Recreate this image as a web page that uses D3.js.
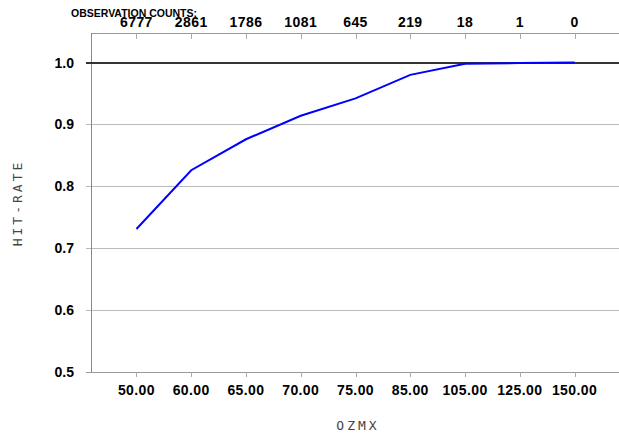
<!DOCTYPE html>
<html>
<head>
<meta charset="utf-8">
<script src="https://cdn.jsdelivr.net/npm/d3@7"></script>
<style>
  body { margin: 0; background: #fff; }
  .bold { font-family: "Liberation Sans", Arial, sans-serif; font-weight: bold; fill: #000; }
  .mono { font-family: "DejaVu Sans Mono", monospace; fill: #444; }
</style>
</head>
<body>
<script>
// chart data
var categories = ['50.00', '60.00', '65.00', '70.00', '75.00', '85.00', '105.00', '125.00', '150.00'];
var hitRate = [0.731, 0.826, 0.876, 0.914, 0.942, 0.980, 0.998, 0.999, 1.0];
var counts = [6777, 2861, 1786, 1081, 645, 219, 18, 1, 0];
var yTicks = [0.5, 0.6, 0.7, 0.8, 0.9, 1.0];

var width = 619;
var height = 434;
// plot frame (window.top is reserved, so use other names)
var plotL = 91, plotR = 620, plotT = 33, plotB = 372;

var svg = d3.select('body').append('svg')
  .attr('width', width)
  .attr('height', height);

var x = d3.scalePoint()
  .domain(categories)
  .range([plotL, plotR])
  .padding(0.83);

var y = d3.scaleLinear()
  .domain([0.5, 1.0])
  .range([plotB, plotT + 29.5]);

// gridlines
svg.selectAll('line.grid').data(yTicks.filter(function (d) { return d > 0.5 && d < 1; }))
  .enter()
  .append('line')
  .attr('class', 'grid')
  .attr('x1', plotL - 5)
  .attr('x2', plotR)
  .attr('y1', function (d) { return Math.round(y(d)) + 0.5; })
  .attr('y2', function (d) { return Math.round(y(d)) + 0.5; })
  .attr('stroke', '#bbb')
  .attr('stroke-width', 1);

// frame: top, left, bottom
svg.append('line')
  .attr('x1', plotL).attr('x2', plotR)
  .attr('y1', plotT + 0.5).attr('y2', plotT + 0.5)
  .attr('stroke', '#999');
svg.append('line')
  .attr('x1', plotL + 0.5).attr('x2', plotL + 0.5)
  .attr('y1', plotT).attr('y2', plotB)
  .attr('stroke', '#888');
svg.append('line')
  .attr('x1', plotL - 5).attr('x2', plotR)
  .attr('y1', plotB + 0.5).attr('y2', plotB + 0.5)
  .attr('stroke', '#999');

// y=1.0 reference line
svg.append('line')
  .attr('x1', plotL - 5).attr('x2', plotR)
  .attr('y1', Math.round(y(1.0))).attr('y2', Math.round(y(1.0)))
  .attr('stroke', '#333')
  .attr('stroke-width', 2);

// y tick labels
svg.selectAll('text.ylab').data(yTicks)
  .enter()
  .append('text')
  .attr('class', 'ylab bold')
  .attr('x', 74)
  .attr('y', function (d) { return y(d) + 5; })
  .attr('text-anchor', 'end')
  .style('font-size', '14px')
  .text(function (d) { return d.toFixed(1); });

// bottom ticks and labels
svg.selectAll('line.btick').data(categories)
  .enter()
  .append('line')
  .attr('x1', function (d) { return Math.round(x(d)) + 0.5; })
  .attr('x2', function (d) { return Math.round(x(d)) + 0.5; })
  .attr('y1', plotB)
  .attr('y2', plotB + 5)
  .attr('stroke', '#aaa');

svg.selectAll('text.xlab').data(categories)
  .enter()
  .append('text')
  .attr('class', 'xlab bold')
  .attr('x', function (d) { return x(d); })
  .attr('y', 395)
  .attr('text-anchor', 'middle')
  .style('font-size', '14px')
  .style('letter-spacing', '0.4px')
  .text(function (d) { return d; });

// top ticks and observation counts
svg.selectAll('line.ttick').data(categories)
  .enter()
  .append('line')
  .attr('x1', function (d) { return Math.round(x(d)) + 0.5; })
  .attr('x2', function (d) { return Math.round(x(d)) + 0.5; })
  .attr('y1', plotT)
  .attr('y2', plotT + 6)
  .attr('stroke', '#aaa');

svg.selectAll('text.count').data(counts)
  .enter()
  .append('text')
  .attr('class', 'count bold')
  .attr('x', function (d, i) { return x(categories[i]); })
  .attr('y', 27)
  .attr('text-anchor', 'middle')
  .style('font-size', '14px')
  .style('letter-spacing', '0.4px')
  .text(function (d) { return d; });

svg.append('text')
  .attr('class', 'bold')
  .attr('x', 71)
  .attr('y', 17)
  .style('font-size', '10.5px')
  .text('OBSERVATION COUNTS:');

// hit-rate line
var line = d3.line()
  .x(function (d, i) { return x(categories[i]); })
  .y(function (d) { return y(d); });

svg.append('path')
  .datum(hitRate)
  .attr('d', line)
  .attr('fill', 'none')
  .attr('stroke', '#0000ff')
  .attr('stroke-width', 2);

// axis titles
svg.append('text')
  .attr('class', 'mono')
  .attr('x', 358)
  .attr('y', 430)
  .attr('text-anchor', 'middle')
  .style('font-size', '13px')
  .style('letter-spacing', '3px')
  .text('OZMX');

svg.append('text')
  .attr('class', 'mono')
  .attr('transform', 'translate(22,203) rotate(-90)')
  .attr('text-anchor', 'middle')
  .style('font-size', '13px')
  .style('letter-spacing', '3px')
  .text('HIT-RATE');
</script>
</body>
</html>
